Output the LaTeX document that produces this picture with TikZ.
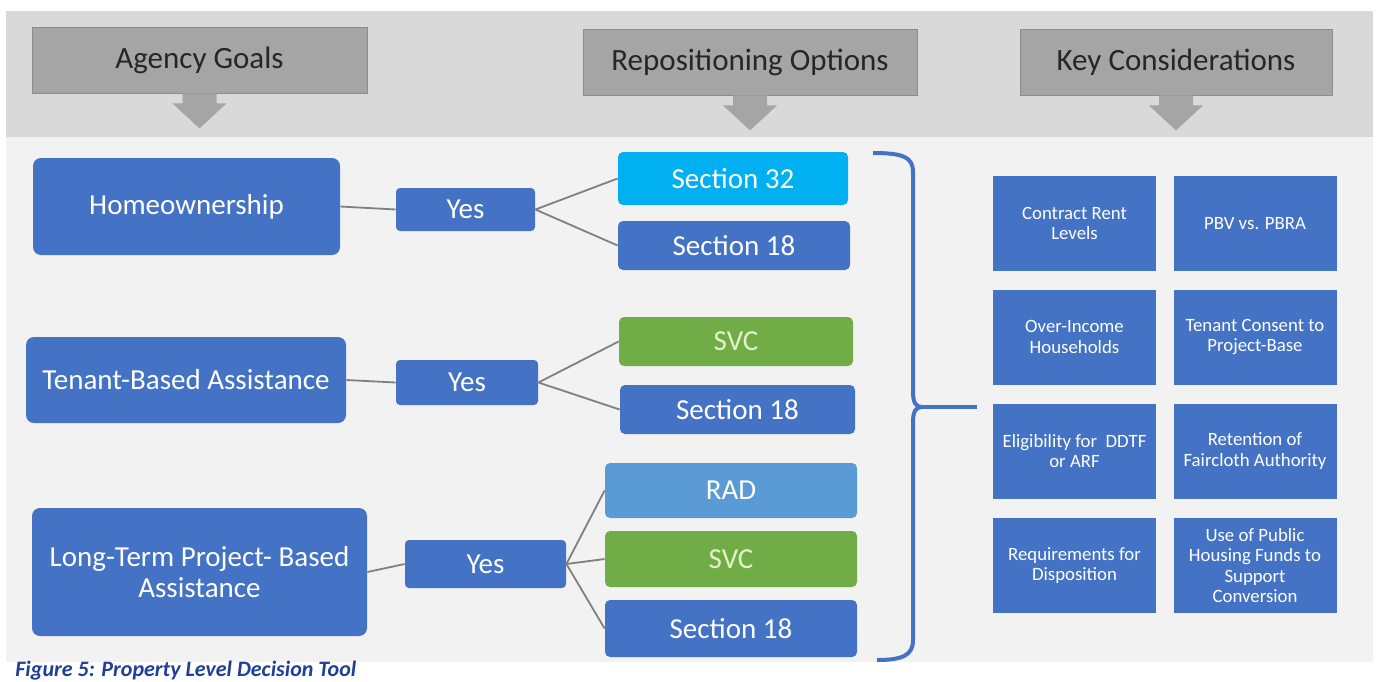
\documentclass[tikz,border=0pt]{standalone}
\usepackage{fontspec}
\setmainfont{Carlito}
\definecolor{bandgray}{HTML}{D9D9D9}
\definecolor{panelgray}{HTML}{F2F2F2}
\definecolor{headgray}{HTML}{A5A5A5}
\definecolor{boxblue}{HTML}{4472C4}
\definecolor{skyblue}{HTML}{00B0F0}
\definecolor{radblue}{HTML}{5B9BD5}
\definecolor{svcgreen}{HTML}{70AD47}
\definecolor{svctext}{HTML}{E4F2C8}
\definecolor{capblue}{HTML}{1F4096}
\tikzset{
    HD/.style ={rectangle, fill=headgray, draw=headgray!85!black, minimum height=33pt, inner sep=0pt, text=black!85, font=\fontsize{15.5}{18}\selectfont},
    GL/.style ={rectangle, rounded corners=4pt, fill=boxblue, inner sep=0pt, align=center, text=white, font=\fontsize{14.5}{15.5}\selectfont},
    YS/.style ={rectangle, rounded corners=2pt, fill=boxblue, inner sep=0pt, text=white, font=\fontsize{14.5}{17}\selectfont},
    OP/.style ={rectangle, rounded corners=2.5pt, fill=boxblue, inner sep=0pt, text=white, minimum width=126pt, font=\fontsize{14.5}{17}\selectfont},
    KC/.style ={rectangle, fill=boxblue, minimum width=81.5pt, minimum height=47.5pt, inner sep=0pt, align=center, text=white, font=\fontsize{9.4}{10.2}\selectfont},
    LN/.style ={draw=black!50, line width=0.9pt}}
\begin{document}
\begin{tikzpicture}[x=0.5pt,y=-0.5pt]
        \useasboundingbox (0,0) rectangle (1379,681);
        \clip (0,0) rectangle (1379,681);
        % backgrounds
        \fill[white] (0,0) rectangle (1379,681);
        \fill[bandgray] (6,11) rectangle (1373,137);
        \fill[panelgray] (6,137) rectangle (1373,662);
        % headers with arrows
        \node[HD,minimum width=167.5pt] (hAgency) at (199.5,60) {Agency Goals};
        \node[HD,minimum width=167pt] (hRepos) at (750,62) {Repositioning Options};
        \node[HD,minimum width=156pt] (hKey) at (1176,62) {Key Considerations};
        \foreach \n in {hAgency,hRepos,hKey}{
            \fill[headgray] (\n.south) +(-17,0) -- +(-17,10) -- +(-27,10) -- +(0,35)
                -- +(27,10) -- +(17,10) -- +(17,0) -- cycle;}
        % agency goals
        \node[GL,minimum width=153.5pt,minimum height=48.5pt] (gHome) at (186.5,206.5) {Homeownership};
        \node[GL,minimum width=160pt,minimum height=43pt] (gTenant) at (186,380) {Tenant-Based Assistance};
        \node[GL,minimum width=167.5pt,minimum height=64pt] (gLong) at (199.5,572) {Long-Term Project- Based\\Assistance};
        \node[YS,minimum width=69.5pt,minimum height=21.5pt] (y1) at (465.5,209.5) {Yes};
        \node[YS,minimum width=71pt,minimum height=22.5pt] (y2) at (467,382.5) {Yes};
        \node[YS,minimum width=80.5pt,minimum height=24pt] (y3) at (485.5,564) {Yes};
        % repositioning options
        \node[OP,fill=skyblue,minimum width=115pt,minimum height=26.5pt] (o32) at (733,178.5) {Section 32};
        \node[OP,minimum width=116pt,minimum height=24.5pt] (o18a) at (734,245.5) {Section 18};
        \node[OP,fill=svcgreen,text=svctext,minimum width=117pt,minimum height=24.5pt] (oSvcA) at (736,341.5) {SVC};
        \node[OP,minimum width=117.5pt,minimum height=24.5pt] (o18b) at (737.5,409.5) {Section 18};
        \node[OP,fill=radblue,minimum height=27.5pt] (oRad) at (731,490.5) {RAD};
        \node[OP,fill=svcgreen,text=svctext,minimum height=28pt] (oSvcB) at (731,559) {SVC};
        \node[OP,minimum height=28.5pt] (o18c) at (731,628.5) {Section 18};
        % connectors
        \draw[LN] (gHome.east) -- (y1.west);
        \draw[LN] (gTenant.east) -- (y2.west);
        \draw[LN] (gLong.east) -- (y3.west);
        \draw[LN] (o32.west) -- (y1.east) -- (o18a.west);
        \draw[LN] (oSvcA.west) -- (y2.east) -- (o18b.west);
        \foreach \o in {oRad,oSvcB,o18c}
            \draw[LN] (y3.east) -- (\o.west);
        % bracket
        \coordinate (bTip) at (922,407);
        \coordinate (kcIn) at (977,407);
        \draw[boxblue,line width=2pt] (873,153) .. controls (903,153) and (913,157) .. (913,172)
            -- (913,392) .. controls (913,403) and (916,407) .. (bTip)
            .. controls (916,407) and (913,411) .. (913,422)
            -- (913,640) .. controls (913,655) and (903,660) .. (877,660);
        \draw[boxblue,line width=2pt] (bTip) -- (kcIn);
        % key considerations
        \node[KC] (k1) at (1074.5,223.5) {Contract Rent\\Levels};
        \node[KC] (k2) at (1255,223.5) {PBV vs. PBRA};
        \node[KC] (k3) at (1074.5,337) {Over-Income\\Households};
        \node[KC] (k4) at (1255,337) {Tenant Consent to\\Project-Base};
        \node[KC] (k5) at (1074.5,451) {Eligibility for~ DDTF\\or ARF};
        \node[KC] (k6) at (1255,451) {Retention of\\Faircloth Authority};
        \node[KC] (k7) at (1074.5,565.5) {Requirements for\\Disposition};
        \node[KC] (k8) at (1255,565.5) {Use of Public\\Housing Funds to\\Support\\Conversion};
        % caption
        \fill[white] (13,662) rectangle (447,700);
        \node[anchor=base west,inner sep=0pt,text=capblue,font=\fontsize{11}{13}\selectfont\bfseries\itshape] (cap) at (15,676) {Figure 5: Property Level Decision Tool};
    \end{tikzpicture}
\end{document}
